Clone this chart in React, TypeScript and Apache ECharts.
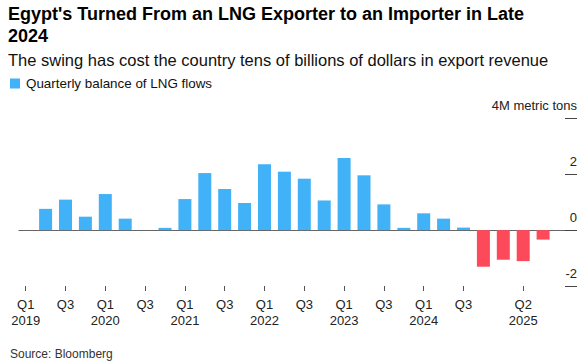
import React, { useEffect, useRef } from "react";
import * as echarts from "echarts";

const categories = [
  "2019 Q1", "2019 Q2", "2019 Q3", "2019 Q4",
  "2020 Q1", "2020 Q2", "2020 Q3", "2020 Q4",
  "2021 Q1", "2021 Q2", "2021 Q3", "2021 Q4",
  "2022 Q1", "2022 Q2", "2022 Q3", "2022 Q4",
  "2023 Q1", "2023 Q2", "2023 Q3", "2023 Q4",
  "2024 Q1", "2024 Q2", "2024 Q3", "2024 Q4",
  "2025 Q1", "2025 Q2", "2025 Q3",
];

const balance = [
  null, 0.76, 1.09, 0.48,
  1.29, 0.41, null, 0.08,
  1.11, 2.04, 1.47, 0.97,
  2.36, 2.09, 1.84, 1.06,
  2.58, 1.96, 0.92, 0.08,
  0.6, 0.41, 0.09, -1.31,
  -1.06, -1.11, -0.34,
];

const labelledCategories = [
  "2019 Q1", "2019 Q3", "2020 Q1", "2020 Q3", "2021 Q1", "2021 Q3",
  "2022 Q1", "2022 Q3", "2023 Q1", "2023 Q3", "2024 Q1", "2024 Q3", "2025 Q2",
];
const yearLabelled = ["2019 Q1", "2020 Q1", "2021 Q1", "2022 Q1", "2023 Q1", "2024 Q1", "2025 Q2"];

const BLUE = "#41b1f8";
const RED = "#fd4a5b";
const FONT = "Liberation Sans, Arial, sans-serif";

export default function App() {
  const ref = useRef<HTMLDivElement>(null);
  useEffect(() => {
    document.body.style.margin = "0";
    if (!ref.current) return;
    const chart = echarts.init(ref.current, null, { renderer: "svg" });
    const showIdx = (i: number) => labelledCategories.includes(categories[i]);
    const clear = "rgba(0,0,0,0)";
    chart.setOption({
      animation: false,
      textStyle: { fontFamily: FONT },
      title: [
        {
          text: "Egypt's Turned From an LNG Exporter to an Importer in Late\n2024",
          left: 8,
          top: 3,
          padding: 0,
          textStyle: { fontFamily: FONT, fontSize: 18, fontWeight: "bold", color: "#000", lineHeight: 22 },
        },
        {
          text: "The swing has cost the country tens of billions of dollars in export revenue",
          left: 8,
          top: 51,
          padding: 0,
          textStyle: { fontFamily: FONT, fontSize: 16.5, fontWeight: "normal", color: "#111", lineHeight: 18 },
        },
        {
          text: "Source: Bloomberg",
          left: 10,
          top: 347,
          padding: 0,
          textStyle: { fontFamily: FONT, fontSize: 12, fontWeight: "normal", color: "#333", lineHeight: 14 },
        },
      ],
      legend: {
        left: 10,
        top: 77,
        padding: 0,
        icon: "rect",
        itemWidth: 10,
        itemHeight: 10,
        textStyle: { fontFamily: FONT, fontSize: 13.4, color: "#111", padding: [0, 0, 0, 1] },
        data: ["Quarterly balance of LNG flows"],
      },
      grid: [
        { left: 15.75, width: 27 * 19.9, top: 118.3, height: 167.7 },
        { left: 18.5, right: 8, top: 118.3, height: 167.7 },
        { left: 565, right: 8, top: 118.3, height: 167.7 },
      ],
      xAxis: [
        {
          type: "category",
          gridIndex: 0,
          data: categories,
          position: "bottom",
          axisLine: { show: false, onZero: false },
          axisTick: {
            show: true,
            alignWithLabel: true,
            length: 5,
            interval: (i: number) => showIdx(i),
            lineStyle: { color: "#555" },
          },
          axisLabel: {
            interval: (i: number) => showIdx(i),
            margin: 10,
            fontSize: 13,
            lineHeight: 16,
            color: "#222",
            fontFamily: FONT,
            formatter: (v: string) => {
              const [y, q] = v.split(" ");
              return yearLabelled.includes(v) ? `${q}\n${y}` : q;
            },
          },
        },
        { type: "value", gridIndex: 1, show: false, min: 0, max: 1 },
        { type: "value", gridIndex: 2, show: false, min: 0, max: 1 },
      ],
      yAxis: [
        { type: "value", gridIndex: 0, min: -2, max: 4, interval: 2, show: false },
        {
          type: "value",
          gridIndex: 1,
          position: "right",
          min: -2,
          max: 4,
          interval: 2,
          axisLine: { show: false },
          axisTick: { show: false },
          splitLine: {
            show: true,
            lineStyle: { color: [clear, "#666", clear, clear], width: 1 },
          },
          axisLabel: {
            inside: true,
            margin: 0,
            fontSize: 13,
            color: "#222",
            fontFamily: FONT,
            verticalAlign: "bottom",
            padding: [0, 0, 6, 0],
            formatter: (v: number) => (v === 4 ? "4M metric tons" : String(v)),
          },
        },
        {
          type: "value",
          gridIndex: 2,
          min: -2,
          max: 4,
          interval: 2,
          axisLine: { show: false },
          axisTick: { show: false },
          axisLabel: { show: false },
          splitLine: { show: true, lineStyle: { color: "#444", width: 1 } },
        },
      ],
      series: [
        {
          name: "Quarterly balance of LNG flows",
          type: "bar",
          xAxisIndex: 0,
          yAxisIndex: 0,
          barWidth: 13,
          itemStyle: { color: BLUE },
          data: balance.map((v) =>
            v === null ? null : { value: v, itemStyle: { color: v < 0 ? RED : BLUE } }
          ),
        },
      ],
    });
    return () => chart.dispose();
  }, []);
  return <div ref={ref} style={{ width: 585, height: 363 }} />;
}
